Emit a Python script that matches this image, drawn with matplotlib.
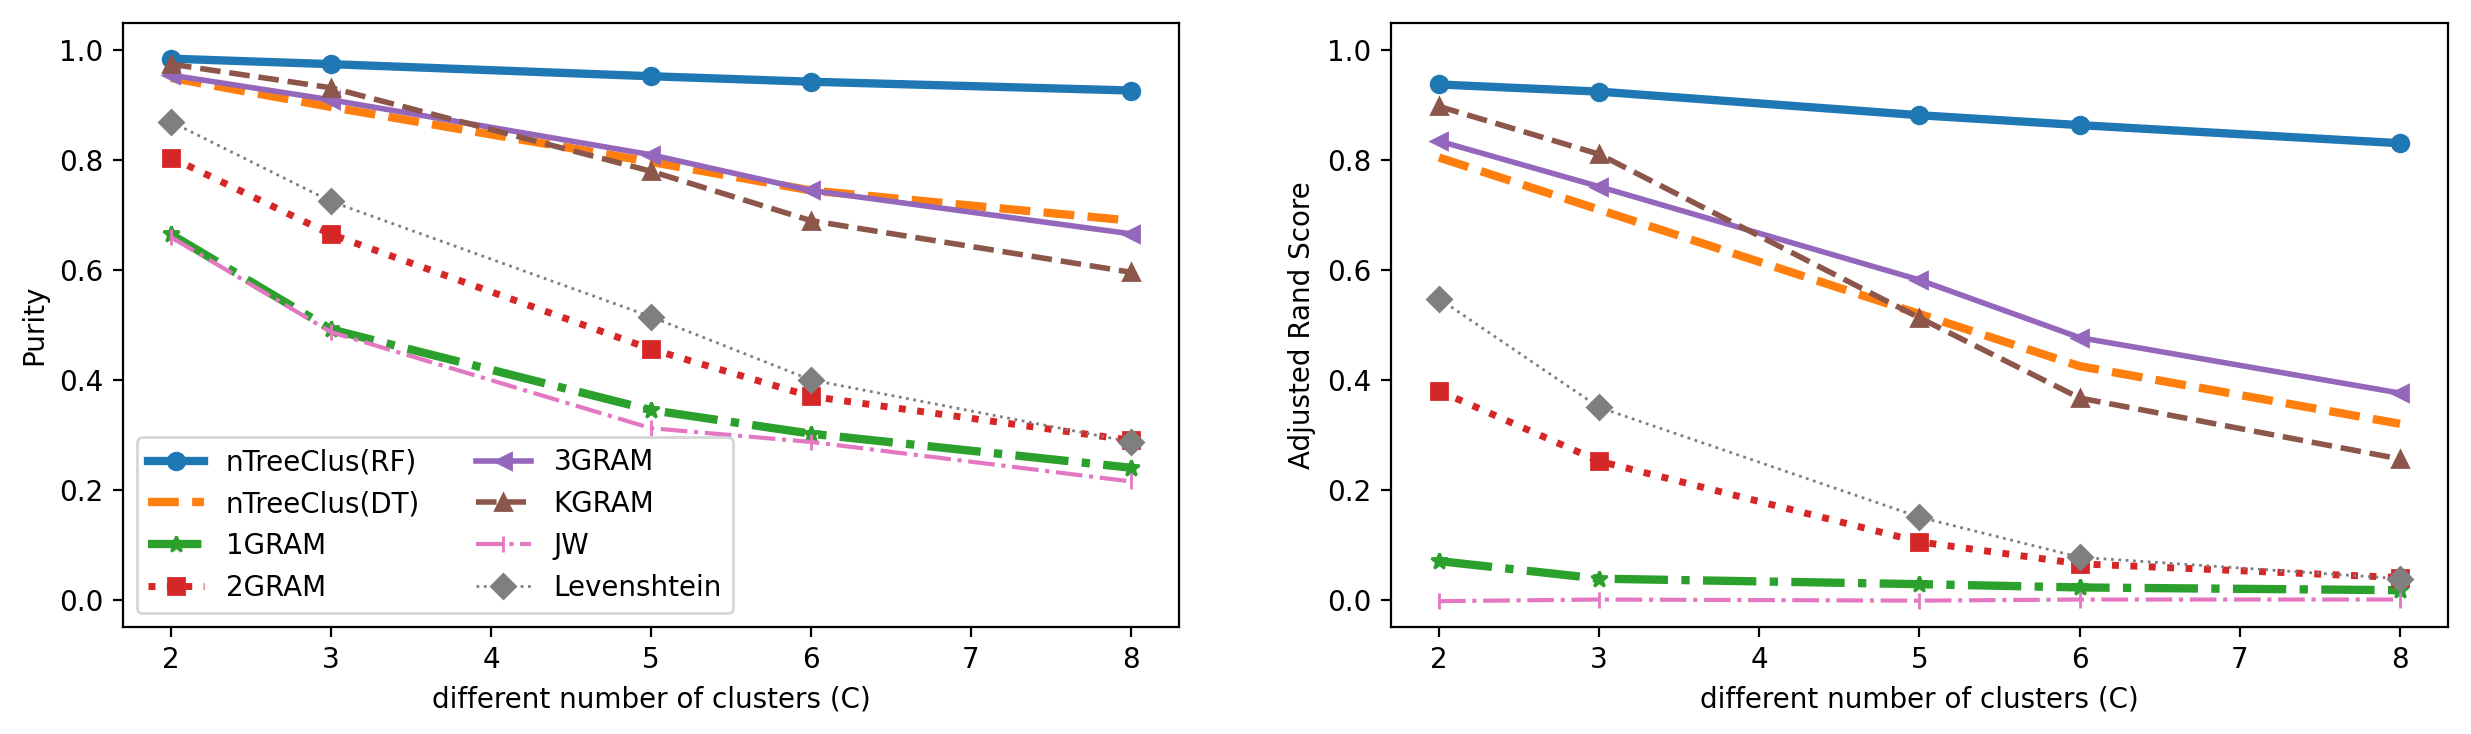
import matplotlib.pyplot as plt

# number of clusters
clusters = [2, 3, 5, 6, 8]

methods = ['nTreeClus(RF)', 'nTreeClus(DT)', '1GRAM', '2GRAM',
           '3GRAM', 'KGRAM', 'JW', 'Levenshtein']

# Purity values
purity_rf = [0.985, 0.975, 0.953, 0.943, 0.927]
purity_dt = [0.950, 0.897, 0.797, 0.745, 0.690]
purity_1gram = [0.665, 0.492, 0.345, 0.302, 0.240]
purity_2gram = [0.805, 0.665, 0.456, 0.370, 0.290]
purity_3gram = [0.955, 0.910, 0.810, 0.745, 0.666]
purity_kgram = [0.975, 0.932, 0.780, 0.690, 0.596]
purity_jw = [0.660, 0.487, 0.312, 0.287, 0.215]
purity_lev = [0.870, 0.725, 0.515, 0.400, 0.287]

# Adjusted Rand Score values
ars_rf = [0.938, 0.925, 0.882, 0.864, 0.831]
ars_dt = [0.805, 0.710, 0.520, 0.425, 0.320]
ars_1gram = [0.070, 0.038, 0.028, 0.022, 0.017]
ars_2gram = [0.380, 0.252, 0.105, 0.065, 0.040]
ars_3gram = [0.835, 0.752, 0.582, 0.477, 0.376]
ars_kgram = [0.898, 0.811, 0.513, 0.367, 0.256]
ars_jw = [-0.003, 0.000, -0.002, 0.000, 0.000]
ars_lev = [0.548, 0.350, 0.150, 0.077, 0.038]

purity = [purity_rf, purity_dt, purity_1gram, purity_2gram,
          purity_3gram, purity_kgram, purity_jw, purity_lev]
ars = [ars_rf, ars_dt, ars_1gram, ars_2gram,
       ars_3gram, ars_kgram, ars_jw, ars_lev]

# (colour, linestyle, linewidth, marker, markersize)
styles = [
    ('tab:blue', '-', 3, 'o', 6),
    ('tab:orange', '--', 3, None, 6),
    ('tab:green', '-.', 3, '*', 6),
    ('tab:red', ':', 2.5, 's', 6),
    ('tab:purple', '-', 2, '<', 6),
    ('tab:brown', '--', 2, '^', 6),
    ('tab:pink', '-.', 1.5, '|', 6),
    ('tab:gray', ':', 1, 'D', 6),
]

fig = plt.figure(figsize=(2471 / 200, 734 / 200), dpi=200)
ax1 = fig.add_axes([0.0498, 0.1458, 0.4273, 0.8229])
ax2 = fig.add_axes([0.5629, 0.1458, 0.4278, 0.8229])


def draw(ax, data, ylabel):
    for name, vals, (c, ls, lw, m, ms) in zip(methods, data, styles):
        ax.plot(clusters, vals, color=c, linestyle=ls, linewidth=lw,
                marker=m, markersize=ms, label=name)
    ax.set_ylim(-0.05, 1.05)
    ax.set_xlabel('different number of clusters (C)')
    ax.set_ylabel(ylabel)


draw(ax1, purity, 'Purity')
draw(ax2, ars, 'Adjusted Rand Score')
ax1.legend(loc='lower left', ncol=2)

plt.savefig('out.png', dpi=200)
